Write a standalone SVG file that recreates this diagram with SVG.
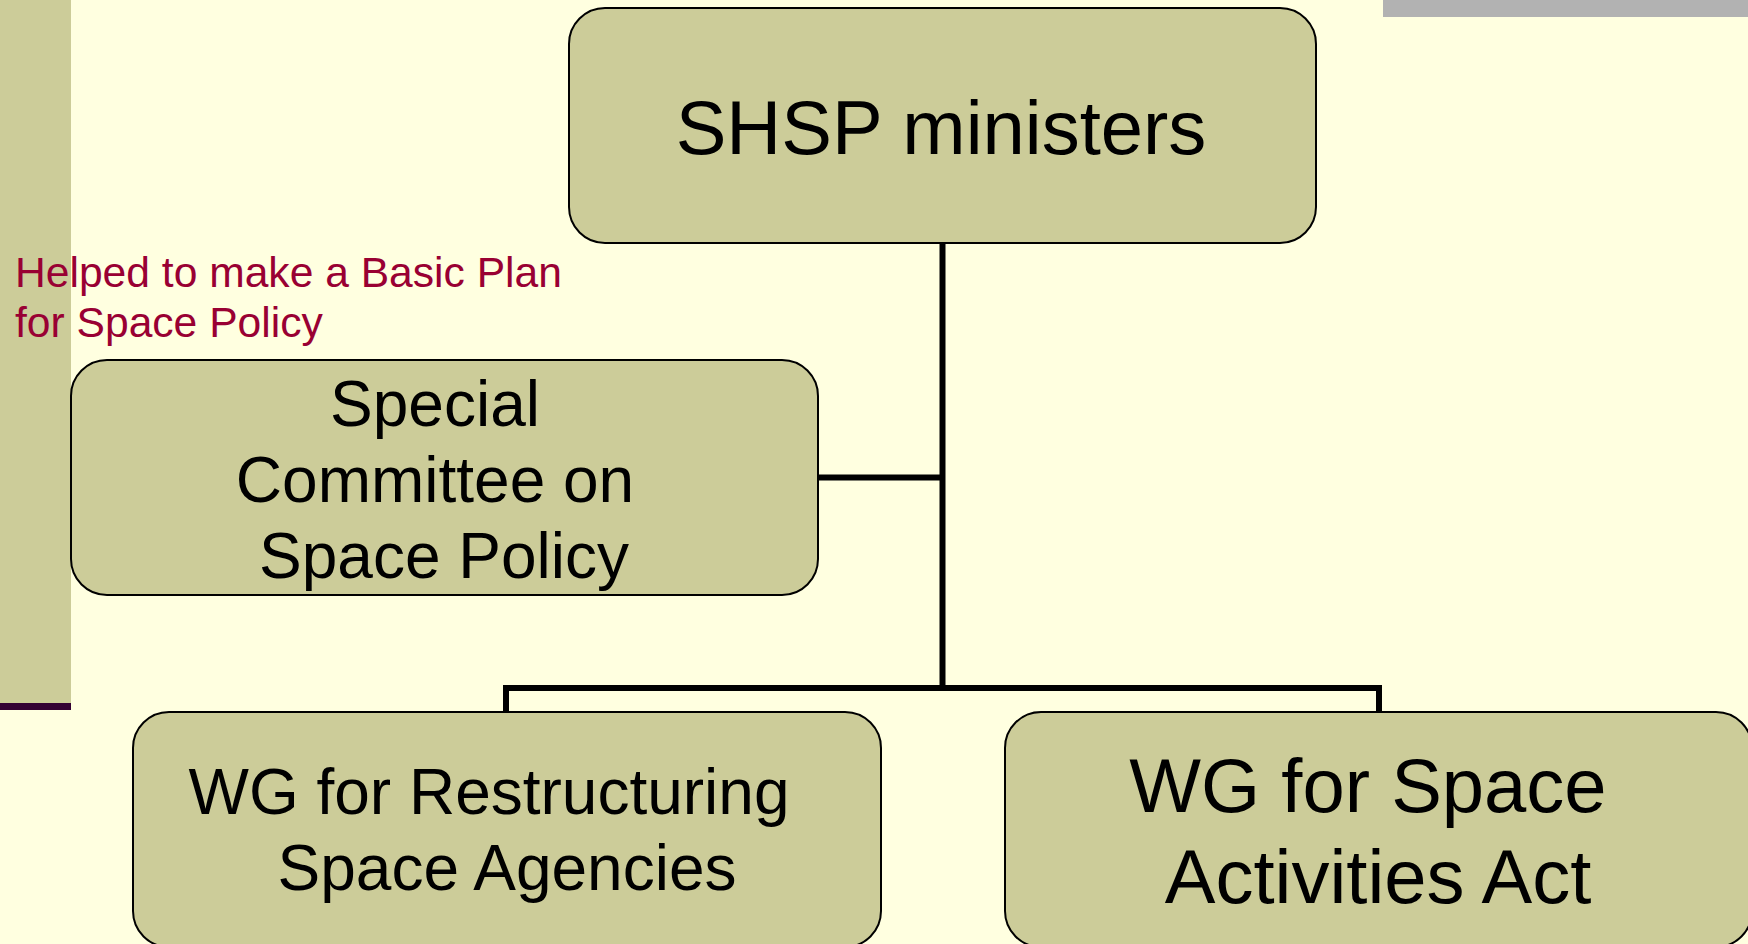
<svg xmlns="http://www.w3.org/2000/svg" width="1748" height="944" viewBox="0 0 1748 944">
  <style>
    .box { fill: #cccc99; stroke: #000; stroke-width: 2; }
    .lbl { font-family: "Liberation Sans", Arial, sans-serif; fill: #000; text-anchor: middle; }
    .note { font-family: "Liberation Sans", Arial, sans-serif; fill: #990033; font-size: 42.6px; }
    .wire { fill: none; stroke: #000; stroke-width: 6; stroke-linejoin: miter; stroke-linecap: butt; }
  </style>

  <!-- slide background and decorative bars -->
  <rect x="0" y="0" width="1748" height="944" fill="#ffffe0"/>
  <rect x="0" y="0" width="71" height="703" fill="#cccc99"/>
  <rect x="0" y="703" width="71" height="7" fill="#330033"/>
  <rect x="1383" y="0" width="365" height="17" fill="#b2b2b2"/>

  <!-- annotation -->
  <text class="note" x="15" y="287">Helped to make a Basic Plan</text>
  <text class="note" x="15" y="337">for Space Policy</text>

  <!-- connectors -->
  <g id="connectors">
    <path class="wire" d="M942.5 243 V688"/>
    <path class="wire" d="M818 477.5 H942.5"/>
    <path class="wire" d="M506 712 V688 H1379 V712"/>
  </g>

  <g id="node-shsp">
    <rect class="box" x="569" y="8" width="747" height="235" rx="36" ry="36"/>
    <text class="lbl" x="941" y="154" font-size="76">SHSP ministers</text>
  </g>

  <g id="node-committee">
    <rect class="box" x="71" y="360" width="747" height="235" rx="36" ry="36"/>
    <text class="lbl" x="435" y="426" font-size="64">Special</text>
    <text class="lbl" x="435" y="502" font-size="64">Committee on</text>
    <text class="lbl" x="444" y="578" font-size="64">Space Policy</text>
  </g>

  <g id="node-wg-agencies">
    <rect class="box" x="133" y="712" width="748" height="235" rx="36" ry="36"/>
    <text class="lbl" x="489" y="814" font-size="64">WG for Restructuring</text>
    <text class="lbl" x="507" y="890" font-size="64">Space Agencies</text>
  </g>

  <g id="node-wg-act">
    <rect class="box" x="1005" y="712" width="747" height="235" rx="36" ry="36"/>
    <text class="lbl" x="1368" y="812" font-size="76">WG for Space</text>
    <text class="lbl" x="1378" y="903" font-size="76">Activities Act</text>
  </g>
</svg>
